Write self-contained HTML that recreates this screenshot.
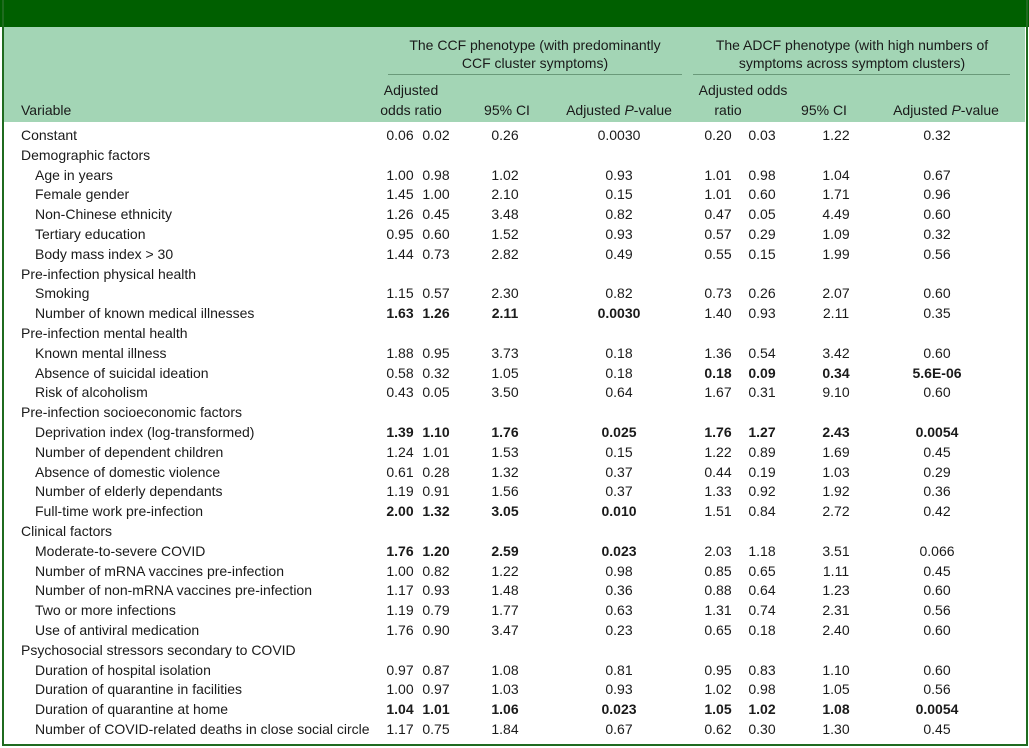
<!DOCTYPE html>
<html><head><meta charset="utf-8"><style>
body{margin:0;width:1029px;height:748px;background:#fff;overflow:hidden;font-family:"Liberation Sans",sans-serif;color:#1a1a1a}
#frame{position:absolute;left:2px;top:0;width:1022px;height:744px;border:2px solid #1f6b1f;border-top:none}
#topbar{position:absolute;left:0;top:0;width:1029px;height:27px;background:#005f00}
#head{position:absolute;left:4px;top:27px;width:1021px;height:95px;background:#a3d5b5}
.t{position:absolute;font-size:14px;line-height:20px;white-space:nowrap}
.c{transform:translateX(-50%)}
.b{font-weight:bold}
.hl{position:absolute;height:1px;background:#6a9a7a;top:74px}
</style></head><body>
<div id="topbar"></div>
<div id="head"></div>
<div id="frame"></div>
<div class="t c" style="left:535px;top:35px">The CCF phenotype (with predominantly</div>
<div class="t c" style="left:535px;top:53px">CCF cluster symptoms)</div>
<div class="t c" style="left:852px;top:35px">The ADCF phenotype (with high numbers of</div>
<div class="t c" style="left:852px;top:53px">symptoms across symptom clusters)</div>
<div class="hl" style="left:388px;width:294px"></div>
<div class="hl" style="left:693px;width:317px"></div>
<div class="t" style="left:21px;top:100px">Variable</div>
<div class="t c" style="left:411px;top:80px">Adjusted</div>
<div class="t c" style="left:411px;top:100px">odds ratio</div>
<div class="t c" style="left:507px;top:100px">95% CI</div>
<div class="t c" style="left:619px;top:100px">Adjusted <i>P</i>-value</div>
<div class="t c" style="left:743px;top:80px">Adjusted odds</div>
<div class="t c" style="left:728px;top:100px">ratio</div>
<div class="t c" style="left:824px;top:100px">95% CI</div>
<div class="t c" style="left:946px;top:100px">Adjusted <i>P</i>-value</div>
<div id="rows"></div>
<script>
const rows=[
["Constant",0,["0.06","0.02","0.26","0.0030"],["0.20","0.03","1.22","0.32"],0,0],
["Demographic factors",0,null,null,0,0],
["Age in years",1,["1.00","0.98","1.02","0.93"],["1.01","0.98","1.04","0.67"],0,0],
["Female gender",1,["1.45","1.00","2.10","0.15"],["1.01","0.60","1.71","0.96"],0,0],
["Non-Chinese ethnicity",1,["1.26","0.45","3.48","0.82"],["0.47","0.05","4.49","0.60"],0,0],
["Tertiary education",1,["0.95","0.60","1.52","0.93"],["0.57","0.29","1.09","0.32"],0,0],
["Body mass index > 30",1,["1.44","0.73","2.82","0.49"],["0.55","0.15","1.99","0.56"],0,0],
["Pre-infection physical health",0,null,null,0,0],
["Smoking",1,["1.15","0.57","2.30","0.82"],["0.73","0.26","2.07","0.60"],0,0],
["Number of known medical illnesses",1,["1.63","1.26","2.11","0.0030"],["1.40","0.93","2.11","0.35"],1,0],
["Pre-infection mental health",0,null,null,0,0],
["Known mental illness",1,["1.88","0.95","3.73","0.18"],["1.36","0.54","3.42","0.60"],0,0],
["Absence of suicidal ideation",1,["0.58","0.32","1.05","0.18"],["0.18","0.09","0.34","5.6E-06"],0,1],
["Risk of alcoholism",1,["0.43","0.05","3.50","0.64"],["1.67","0.31","9.10","0.60"],0,0],
["Pre-infection socioeconomic factors",0,null,null,0,0],
["Deprivation index (log-transformed)",1,["1.39","1.10","1.76","0.025"],["1.76","1.27","2.43","0.0054"],1,1],
["Number of dependent children",1,["1.24","1.01","1.53","0.15"],["1.22","0.89","1.69","0.45"],0,0],
["Absence of domestic violence",1,["0.61","0.28","1.32","0.37"],["0.44","0.19","1.03","0.29"],0,0],
["Number of elderly dependants",1,["1.19","0.91","1.56","0.37"],["1.33","0.92","1.92","0.36"],0,0],
["Full-time work pre-infection",1,["2.00","1.32","3.05","0.010"],["1.51","0.84","2.72","0.42"],1,0],
["Clinical factors",0,null,null,0,0],
["Moderate-to-severe COVID",1,["1.76","1.20","2.59","0.023"],["2.03","1.18","3.51","0.066"],1,0],
["Number of mRNA vaccines pre-infection",1,["1.00","0.82","1.22","0.98"],["0.85","0.65","1.11","0.45"],0,0],
["Number of non-mRNA vaccines pre-infection",1,["1.17","0.93","1.48","0.36"],["0.88","0.64","1.23","0.60"],0,0],
["Two or more infections",1,["1.19","0.79","1.77","0.63"],["1.31","0.74","2.31","0.56"],0,0],
["Use of antiviral medication",1,["1.76","0.90","3.47","0.23"],["0.65","0.18","2.40","0.60"],0,0],
["Psychosocial stressors secondary to COVID",0,null,null,0,0],
["Duration of hospital isolation",1,["0.97","0.87","1.08","0.81"],["0.95","0.83","1.10","0.60"],0,0],
["Duration of quarantine in facilities",1,["1.00","0.97","1.03","0.93"],["1.02","0.98","1.05","0.56"],0,0],
["Duration of quarantine at home",1,["1.04","1.01","1.06","0.023"],["1.05","1.02","1.08","0.0054"],1,1],
["Number of COVID-related deaths in close social circle",1,["1.17","0.75","1.84","0.67"],["0.62","0.30","1.30","0.45"],0,0]
];
const cx1=[400,436,505,619], cx2=[718,762,836,937];
const box=document.getElementById('rows');
rows.forEach((r,i)=>{
  const top=125+19.8*i;
  const lab=document.createElement('div');
  lab.className='t';lab.style.left=(r[1]?35:21)+'px';lab.style.top=top+'px';lab.textContent=r[0];
  
  
  box.appendChild(lab);
  [[r[2],cx1,r[4]],[r[3],cx2,r[5]]].forEach(([vals,xs,bold])=>{
    if(!vals)return;
    vals.forEach((v,j)=>{
      const d=document.createElement('div');
      d.className='t c'+(bold?' b':'');d.style.left=xs[j]+'px';d.style.top=top+'px';d.textContent=v;
      
      
      box.appendChild(d);
    });
  });
});
</script>
</body></html>
